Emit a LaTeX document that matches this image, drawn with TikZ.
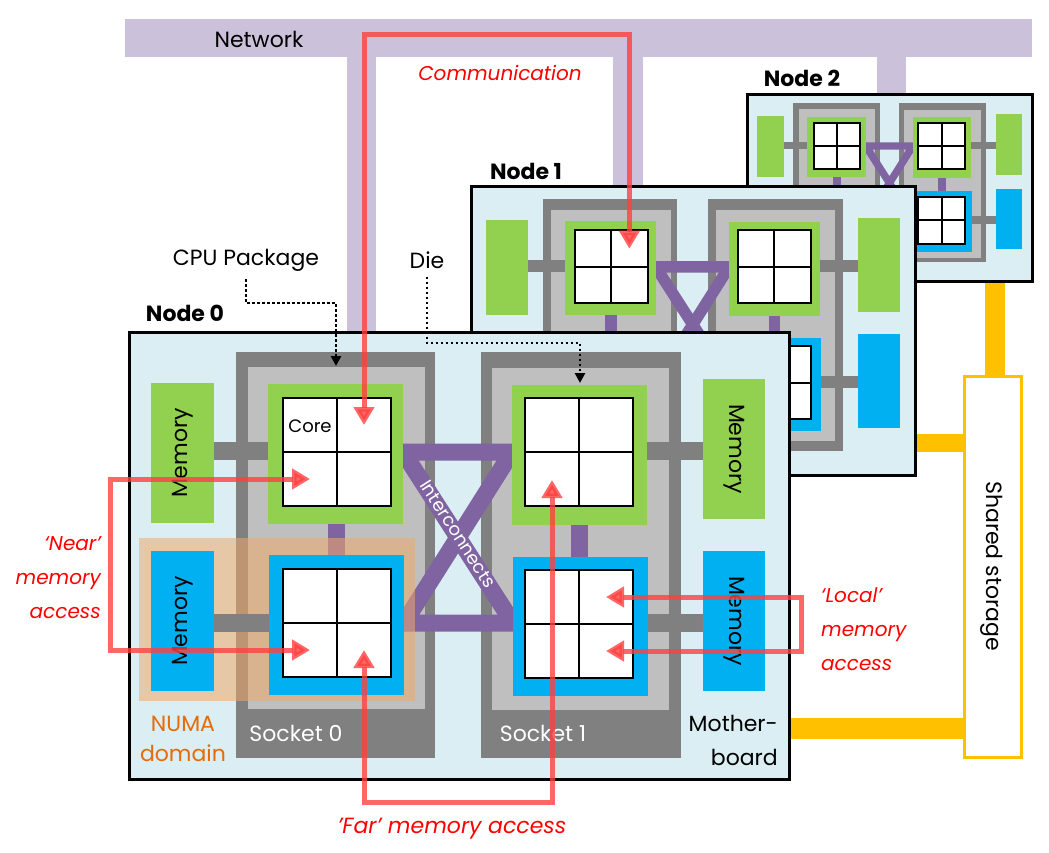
\documentclass[tikz,border=0pt]{standalone}
\usepackage{fontspec}
\setmainfont{Poppins}
\usetikzlibrary{arrows.meta,calc}
\definecolor{bgblue}{HTML}{DAEEF3}
\definecolor{memgreen}{HTML}{92D050}
\definecolor{memblue}{HTML}{00B0F0}
\definecolor{dgray}{HTML}{808080}
\definecolor{lgray}{HTML}{BFBFBF}
\definecolor{icpurple}{HTML}{8064A2}
\definecolor{netlav}{HTML}{CCC1DA}
\definecolor{arrred}{HTML}{FF4040}
\definecolor{txtred}{HTML}{FF0000}
\definecolor{stor}{HTML}{FFC000}
\definecolor{numaor}{HTML}{E46C0A}
\definecolor{numafill}{HTML}{F0A868}
\newcommand{\FSz}[2]{\fontsize{#1}{#2}\selectfont}
\tikzset{
  coreb/.style={fill=white, draw=black, line width=2pt},
  nodebox/.style={draw=black, line width=3pt},
  lbl/.style={inner sep=0pt, font=\FSz{22}{32}},
  boldlbl/.style={inner sep=0pt, font=\bfseries\FSz{22}{32}},
  redtxt/.style={inner sep=0pt, text=txtred, font=\itshape\FSz{20}{34}},
  redarr/.style={draw=arrred, line width=5pt, opacity=0.8,
    {Triangle[length=18pt,width=20pt]}-{Triangle[length=18pt,width=20pt]}},
  dotarr/.style={draw=black, line width=2.5pt, dash pattern=on 2.5pt off 2.5pt,
    -{Triangle[length=10pt,width=10pt]}}
}
\newcommand{\Cores}[2]{%
  \foreach \ci in {0,1}{\foreach \cj in {0,1}{%
    \draw[coreb] ({#1+54*\ci},{#2+54*\cj}) rectangle ++(54,54);}}%
}
\newcommand{\NodeBack}[3]{%
  \fill[bgblue] (0,0) rectangle (660,#3);
  \fill[dgray] (107,20) rectangle (306,#2);
  \fill[lgray] (119,35) rectangle (296,377);
  \fill[dgray] (352,20) rectangle (552,#2);
  \fill[lgray] (363,36) rectangle (540,378);
  \fill[icpurple] (199,190) rectangle (216,225);
  \fill[icpurple] (442,190) rectangle (459,227);
  \pgfmathsetmacro{\icw}{17*#1}%
  \draw[icpurple, line width=\icw pt] (274,120) -- (383,120) -- (275,291) -- (384,291) -- cycle;
}
\newcommand{\NodeFront}{%
  \fill[dgray] (85,110) rectangle (140,128);
  \fill[dgray] (85,282) rectangle (140,300);
  \fill[dgray] (518,110) rectangle (574,128);
  \fill[dgray] (518,282) rectangle (574,300);
  \fill[memgreen] (22,51) rectangle (85,191);
  \fill[memblue] (22,219) rectangle (85,359);
  \fill[memgreen] (574,47) rectangle (636,187);
  \fill[memblue] (574,219) rectangle (636,359);
  \fill[memgreen] (139,52) rectangle (274,192);
  \fill[memblue] (140,223) rectangle (275,363);
  \fill[memgreen] (383,53) rectangle (518,193);
  \fill[memblue] (384,225) rectangle (519,364);
  \Cores{154}{66}\Cores{154}{237}\Cores{396}{66}\Cores{396}{238}%
}
\begin{document}
\begin{tikzpicture}[x=1pt,y=-1pt]
\useasboundingbox (0,0) rectangle (1049,852);
% network
\fill[netlav] (125,19) rectangle (1032,57);
\fill[netlav] (347,50) rectangle (376,340);
\fill[netlav] (613,50) rectangle (643,190);
\fill[netlav] (877,50) rectangle (906,100);
\node[lbl] (net) at (259,39) {Network};
% storage links
\fill[stor] (780,718) rectangle (966,739);
\fill[stor] (910,434) rectangle (966,452);
\fill[stor] (985,275) rectangle (1005,378);
\draw[stor, line width=3pt, fill=white] (964,376) rectangle (1021,757);
\node[lbl, rotate=-90] (store) at (992,566) {Shared storage};
% node 2
\begin{scope}[shift={(747,94)}, scale=0.433]
  \NodeBack{0.433}{388}{434}
  \NodeFront
  \draw[nodebox] (0,0) rectangle (660,434);
\end{scope}
% node 1
\begin{scope}[shift={(471,186)}, scale=0.674]
  \NodeBack{0.674}{393}{430}
  \NodeFront
  \draw[nodebox] (0,0) rectangle (660,430);
  \coordinate (n1tr) at (235,93);
\end{scope}
% node 0
\begin{scope}[shift={(129,332)}]
  \NodeBack{1}{426}{447}
  \fill[numafill, fill opacity=0.55] (10,206) rectangle (286,369);
  \NodeFront
  \draw[nodebox] (0,0) rectangle (660,447);
  \coordinate (c0tr) at (235,93);
  \coordinate (g0bl) at (181,147);
  \coordinate (b0bl) at (181,318);
  \coordinate (b0br) at (235,318);
  \coordinate (g1bl) at (423,148);
  \coordinate (b1tr) at (477,265);
  \coordinate (b1br) at (477,319);
  \coordinate (pkg0) at (207,34);
  \coordinate (die1top) at (451,51);
\end{scope}
\coordinate (pkgbend) at (0,303);
\coordinate (diebend) at (0,343);
% labels
\node[boldlbl] (n0) at (185,313) {Node 0};
\node[boldlbl] (n1) at (526,171) {Node 1};
\node[boldlbl] (n2) at (802,78) {Node 2};
\node[lbl, font=\FSz{18}{20}] (core) at (310,426) {Core};
\node[lbl, rotate=90] (m1) at (183,453) {Memory};
\node[lbl, rotate=90] (m2) at (183,621) {Memory};
\node[lbl, rotate=-90] (m3) at (734,449) {Memory};
\node[lbl, rotate=-90] (m4) at (734,621) {Memory};
\node[lbl, text=white] (s0) at (296,733) {Socket 0};
\node[lbl, text=white] (s1) at (543,733) {Socket 1};
\node[lbl, text=numaor, align=center, font=\FSz{22}{30}] (numa) at (183,739) {NUMA\\domain};
\node[lbl, align=right, anchor=east, font=\FSz{22}{34}] (mb) at (778,740) {Mother-\\board};
\node[lbl, text=white, font=\FSz{18}{20}, rotate=-57.3] (ic) at (458,534) {Interconnects};
\node[lbl] (cpu) at (246,260) {CPU Package};
\node[lbl] (die) at (427,260) {Die};
% dotted pointers
\draw[dotarr] ([yshift=-8pt]cpu.south) -- (cpu.south |- pkgbend) -| (pkg0);
\draw[dotarr] ([yshift=-8pt]die.south) -- (die.south |- diebend) -| (die1top);
% red arrows
\draw[redarr] (c0tr) -- ++(0,-391) -| (n1tr);
\draw[redarr] (g0bl) -- ++(-200,0) |- (b0bl);
\draw[redarr] (b0br) -- ++(0,152) -| (g1bl);
\draw[redarr] (b1tr) -- ++(195,0) |- (b1br);
% red texts
\node[redtxt] (comm) at (500,73) {Communication};
\node[redtxt, align=right, anchor=east] (near) at (101,578) {‘Near’\\memory\\access};
\node[redtxt, align=left, anchor=west] (local) at (821,629) {‘Local’\\memory\\access};
\node[redtxt, font=\itshape\FSz{22}{30}] (far) at (452,829) {’Far’ memory access};
\end{tikzpicture}
\end{document}
